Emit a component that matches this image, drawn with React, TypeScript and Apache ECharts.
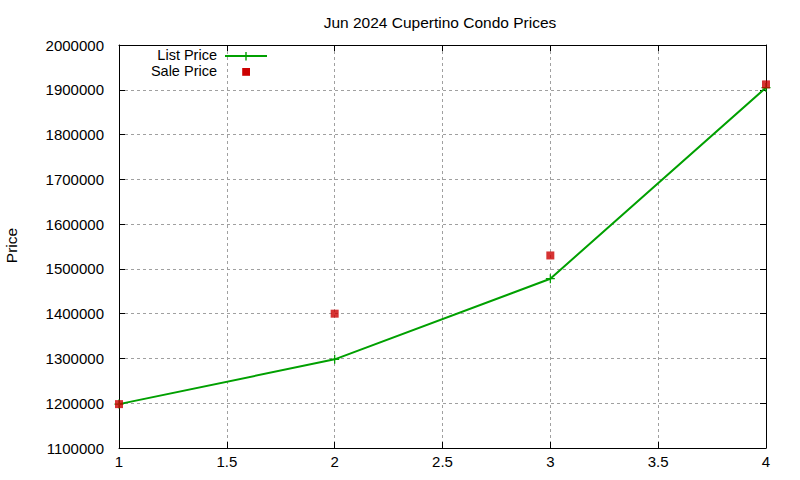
import React, { useEffect, useRef } from "react";
import * as echarts from "echarts";

const xValues = [1, 2, 3, 4];
const listPrice = [1198000, 1298000, 1478000, 1905000];
const salePrice = [1198000, 1400000, 1530000, 1912000];
const titleText = "Jun 2024 Cupertino Condo Prices";
const seriesNames = ["List Price", "Sale Price"];
const yName = "Price";

const FONT = "Liberation Sans, Arial, sans-serif";
const GREEN = "#00a000";
const RED = "#cc0000";
const PLUS = "path://M4.3,0H5.7V10H4.3ZM0,4.3H10V5.7H0Z";

export default function App() {
  const ref = useRef<HTMLDivElement>(null);
  useEffect(() => {
    if (!ref.current) return;
    const chart = echarts.init(ref.current, null, { renderer: "svg" });
    const gridLine = { show: true, lineStyle: { color: "#a0a0a0", type: [3, 3] as any, width: 1 } };
    const axisLine = { show: true, lineStyle: { color: "#000", width: 1 } };
    const tick = { show: true, inside: true, length: 6, lineStyle: { color: "#000" } };
    chart.setOption({
      animation: false,
      backgroundColor: "#fff",
      title: {
        text: titleText,
        left: 440,
        textAlign: "center",
        top: 14,
        padding: 0,
        textStyle: { fontFamily: FONT, fontSize: 15.5, fontWeight: "normal", color: "#000" },
      },
      grid: { left: 119, right: 34, top: 45, bottom: 32, containLabel: false, outerBoundsMode: "none" } as any,
      xAxis: [
        {
          type: "value",
          min: 1,
          max: 4,
          interval: 0.5,
          position: "bottom",
          axisLine,
          axisTick: tick,
          splitLine: gridLine,
          axisLabel: { color: "#000", fontFamily: FONT, fontSize: 15, margin: 6 },
        },
        {
          type: "value",
          min: 1,
          max: 4,
          interval: 0.5,
          position: "top",
          axisLine,
          axisTick: tick,
          splitLine: { show: false },
          axisLabel: { show: false },
        },
      ],
      yAxis: [
        {
          type: "value",
          min: 1100000,
          max: 2000000,
          interval: 100000,
          position: "left",
          axisLine,
          axisTick: tick,
          splitLine: gridLine,
          axisLabel: {
            color: "#000",
            fontFamily: FONT,
            fontSize: 15,
            margin: 15,
            formatter: (v: number) => String(v),
          },
        },
        {
          type: "value",
          min: 1100000,
          max: 2000000,
          interval: 100000,
          position: "right",
          axisLine,
          axisTick: tick,
          splitLine: { show: false },
          axisLabel: { show: false },
        },
      ],
      series: [
        {
          name: seriesNames[0],
          type: "line",
          data: xValues.map((x, i) => [x, listPrice[i]]),
          lineStyle: { color: GREEN, width: 2 },
          itemStyle: { color: GREEN },
          symbol: PLUS,
          symbolSize: 9,
          showAllSymbol: true,
          z: 3,
        },
        {
          name: seriesNames[1],
          type: "scatter",
          data: xValues.map((x, i) => [x, salePrice[i]]),
          itemStyle: { color: RED },
          symbol: "rect",
          symbolSize: 8,
          z: 4,
        },
      ],
      graphic: [
        {
          type: "text",
          x: 11.5,
          y: 245.5,
          rotation: Math.PI / 2,
          style: {
            text: yName,
            align: "center",
            verticalAlign: "middle",
            fontFamily: FONT,
            fontSize: 15.5,
            fill: "#000",
          },
        },
        {
          type: "text",
          x: 217,
          y: 55,
          style: {
            text: seriesNames[0],
            align: "right",
            verticalAlign: "middle",
            fontFamily: FONT,
            fontSize: 14.5,
            lineHeight: 14,
            fill: "#000",
          },
        },
        {
          type: "line",
          shape: { x1: 225, y1: 56, x2: 267, y2: 56 },
          style: { stroke: GREEN, lineWidth: 2 },
        },
        {
          type: "line",
          shape: { x1: 246, y1: 52, x2: 246, y2: 60.5 },
          style: { stroke: GREEN, lineWidth: 1.4 },
        },
        {
          type: "text",
          x: 217,
          y: 71,
          style: {
            text: seriesNames[1],
            align: "right",
            verticalAlign: "middle",
            fontFamily: FONT,
            fontSize: 14.5,
            lineHeight: 14,
            fill: "#000",
          },
        },
        {
          type: "rect",
          shape: { x: 242.2, y: 68, width: 7.8, height: 7.8 },
          style: { fill: RED },
        },
      ],
    });
    return () => chart.dispose();
  }, []);
  return (
    <div
      ref={ref}
      style={{ position: "fixed", left: 0, top: 0, width: 800, height: 480 }}
    />
  );
}
